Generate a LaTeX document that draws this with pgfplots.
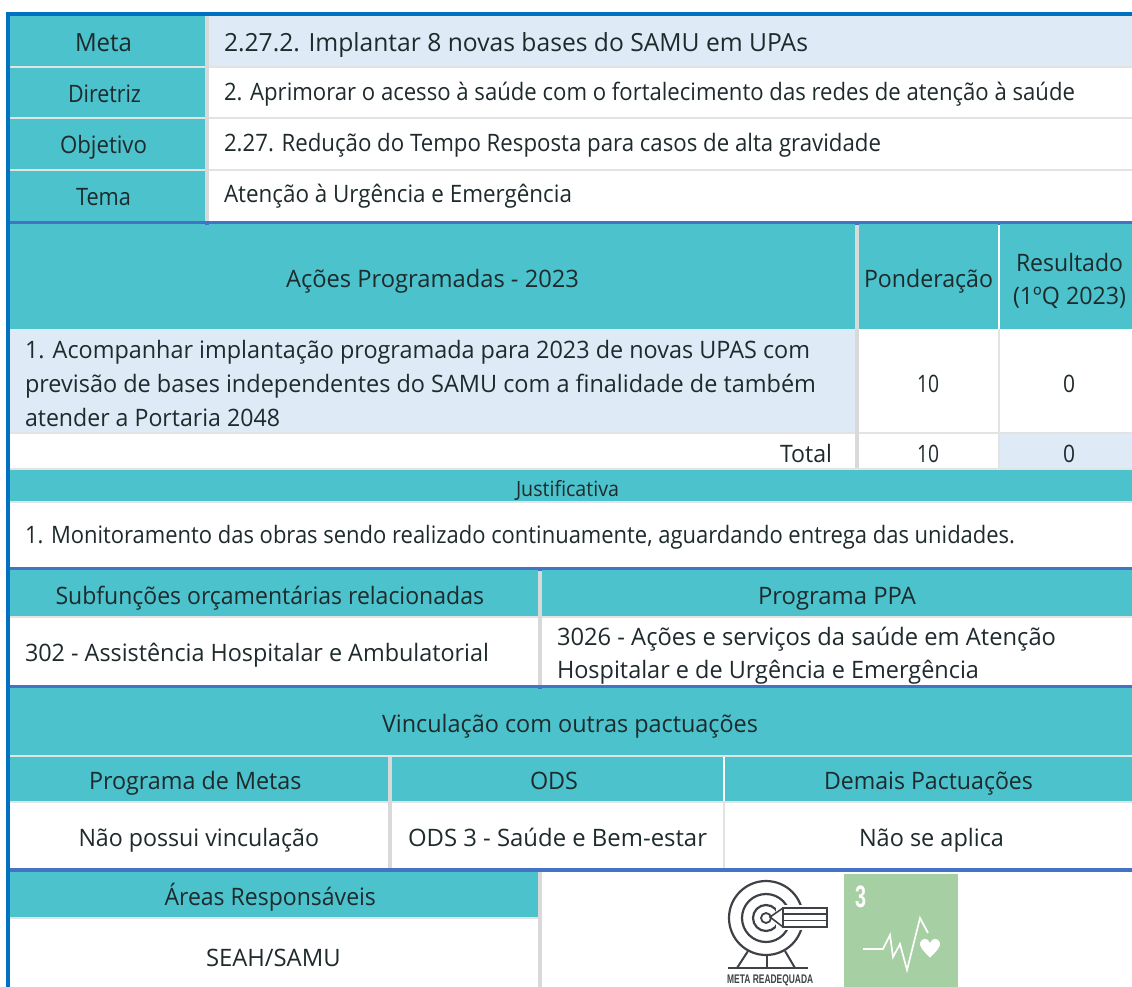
\documentclass[border=0pt]{standalone}
\usepackage{pgfplots}
\usepackage{graphicx}
\usepackage{fontspec}
\pgfplotsset{compat=1.18}
\setmainfont{Open Sans}
\newfontfamily\heros{Liberation Sans}
\definecolor{teal1}{HTML}{4BC2CC}
\definecolor{pale}{HTML}{DEEAF6}
\definecolor{colgray}{HTML}{D9D9D9}
\definecolor{rowgray}{HTML}{E3E3E3}
\definecolor{blue1}{HTML}{4472C4}
\definecolor{blue0}{HTML}{0070C0}
\definecolor{ink}{HTML}{1E2A2C}
\definecolor{green3}{HTML}{A6CFA3}
\definecolor{icon}{HTML}{3E4246}
% rectangle x0 y0 x1 y1 colour
\newcommand{\cell}[5]{\addplot[fill=#5,draw=none,no markers] coordinates {(#1,#2)(#3,#2)(#3,#4)(#1,#4)} --cycle;}
% text: left, right, baseline, font size, text
\newcommand{\T}[5]{\node[anchor=base west,inner sep=0pt,outer sep=0pt,text=ink] at (axis cs:#1,#3) {\fontsize{#4}{#4}\selectfont\resizebox{\dimexpr #2pt-#1pt\relax}{\height}{#5}};}
\begin{document}
\begin{tikzpicture}
\begin{axis}[
  scale only axis, width=1132pt, height=987pt,
  xmin=0, xmax=1132, ymin=0, ymax=987, y dir=reverse,
  hide axis, clip=true]
\cell{0}{0}{1132}{987}{white}
% top block
\cell{10}{16}{205}{221.5}{teal1}
\cell{209}{16}{1132}{66}{pale}
\cell{10}{66}{1132}{68}{rowgray}
\cell{10}{117}{1132}{119}{rowgray}
\cell{10}{169}{1132}{171}{rowgray}
\cell{205}{16}{209}{221.5}{colgray}
% actions
\cell{10}{224}{1132}{329}{teal1}
\cell{10}{329}{855}{432}{pale}
\cell{998}{224}{1000}{329}{white}
\cell{998}{329}{1000}{468}{rowgray}
\cell{10}{432}{1132}{434}{rowgray}
\cell{1000}{434}{1132}{468}{pale}
\cell{855}{224}{859}{468}{colgray}
\cell{10}{468}{1132}{470}{rowgray}
% justificativa
\cell{10}{470}{1132}{501}{teal1}
\cell{10}{501}{1132}{503}{rowgray}
% subfuncoes
\cell{10}{570}{1132}{616}{teal1}
\cell{10}{616}{1132}{618}{rowgray}
\cell{538}{570}{542}{685}{colgray}
% vinculacao
\cell{10}{688}{1132}{755}{teal1}
\cell{10}{755}{1132}{757}{rowgray}
\cell{10}{757}{1132}{801}{teal1}
\cell{10}{801}{1132}{803}{rowgray}
\cell{388}{757}{392}{868}{colgray}
\cell{723}{757}{725}{801}{white}
\cell{723}{801}{725}{868}{rowgray}
% areas
\cell{10}{872}{538}{917}{teal1}
\cell{10}{917}{538}{919}{rowgray}
\cell{538}{872}{542}{987}{colgray}
% blue rules
\cell{10}{221}{1132}{224}{blue1}
\cell{205}{224}{209}{225}{blue1}
\cell{855}{224}{859}{225}{blue1}
\cell{998}{224}{1000}{225}{blue1}
\cell{10}{567}{1132}{570}{blue1}
\cell{538}{570}{542}{571}{blue1}
\cell{10}{685}{1132}{688}{blue1}
\cell{538}{688}{542}{689}{blue1}
\cell{10}{868}{1132}{872}{blue1}
\cell{6}{12}{1132}{16}{blue0}
\cell{6}{12}{10}{987}{blue0}
% text
\T{75}{132}{52}{25}{Meta}
\T{224}{808}{52}{25}{2.27.2. Implantar 8 novas bases do SAMU em UPAs}
\T{68}{141}{103}{24}{Diretriz}
\T{224}{1075}{101}{24}{2. Aprimorar o acesso à saúde com o fortalecimento das redes de atenção à saúde}
\T{60}{147}{154}{24}{Objetivo}
\T{224}{881}{152}{24}{2.27. Redução do Tempo Resposta para casos de alta gravidade}
\T{76}{131}{205}{24}{Tema}
\T{224}{572}{203}{24}{Atenção à Urgência e Emergência}
\T{286}{579}{287}{24}{Ações Programadas - 2023}
\T{864}{993}{287}{24}{Ponderação}
\T{1016}{1123}{271}{24}{Resultado}
\T{1013}{1126}{304}{24}{(1ºQ 2023)}
\T{25}{810}{358}{24}{1. Acompanhar implantação programada para 2023 de novas UPAS com}
\T{25}{816}{392}{24}{previsão de bases independentes do SAMU com a finalidade de também}
\T{25}{280}{426}{24}{atender a Portaria 2048}
\T{917}{939}{392}{24}{10}
\T{1063}{1075}{392}{24}{0}
\T{780}{832}{462}{24}{Total}
\T{917}{939}{462}{24}{10}
\T{1063}{1075}{462}{24}{0}
\T{516}{619}{496}{21}{Justificativa}
\T{25}{1015}{543}{24}{1. Monitoramento das obras sendo realizado continuamente, aguardando entrega das unidades.}
\T{55.5}{484}{604}{24}{Subfunções orçamentárias relacionadas}
\T{758}{916}{604}{24}{Programa PPA}
\T{25}{489}{661}{24}{302 - Assistência Hospitalar e Ambulatorial}
\T{557}{1056}{645}{24}{3026 - Ações e serviços da saúde em Atenção}
\T{557}{979}{678}{24}{Hospitalar e de Urgência e Emergência}
\T{382}{758}{732}{24}{Vinculação com outras pactuações}
\T{89}{301.5}{789}{24}{Programa de Metas}
\T{530}{578}{789}{24}{ODS}
\T{824}{1033}{789}{24}{Demais Pactuações}
\T{78.5}{319}{846}{24}{Não possui vinculação}
\T{408}{707}{846}{24}{ODS 3 - Saúde e Bem-estar}
\T{859}{1004}{846}{24}{Não se aplica}
\T{164.5}{376}{905}{24}{Áreas Responsáveis}
\T{206}{340.6}{966}{24}{SEAH/SAMU}
% target icon
\draw[icon,line width=2.2pt] (axis cs:766,918) circle[radius=37pt];
\draw[icon,line width=2.2pt] (axis cs:766,918) circle[radius=24pt];
\draw[icon,line width=2.2pt] (axis cs:766,918) circle[radius=13pt];
\draw[icon,line width=1.8pt] (axis cs:766,918) circle[radius=5pt];
\fill[white] (axis cs:776,905) rectangle (axis cs:830,930);
\draw[icon,line width=2pt] (axis cs:827,908) rectangle (axis cs:783,927);
\draw[icon,line width=1.6pt] (axis cs:783,914) -- (axis cs:827,914);
\draw[icon,line width=1.6pt] (axis cs:783,920.5) -- (axis cs:827,920.5);
\draw[icon,line width=1.6pt] (axis cs:783,908) -- (axis cs:770,917) -- (axis cs:783,927);
\draw[icon,line width=2pt] (axis cs:728,968) -- (axis cs:808,968);
\draw[icon,line width=2pt] (axis cs:767,955) -- (axis cs:767,968);
\draw[icon,line width=2pt] (axis cs:748,951) -- (axis cs:737,968);
\draw[icon,line width=2pt] (axis cs:785,951) -- (axis cs:795,968);
\node[anchor=base west,inner sep=0pt,text=icon] at (axis cs:727,983) {\fontsize{12.5}{12.5}\selectfont\heros\bfseries\resizebox{86pt}{\height}{META READEQUADA}};
% SDG tile
\cell{844}{874}{958}{987}{green3}
\node[anchor=base west,inner sep=0pt,text=white] at (axis cs:855,907) {\fontsize{31}{31}\selectfont\heros\bfseries\resizebox{11pt}{\height}{3}};
\addplot[white,line width=1.7pt,no markers] coordinates {(863,949)(883,949)(890,935)(893,957)(900,944)(907,970)(920,918)(928,933)};
\fill[white] (axis cs:930,957.5) .. controls (axis cs:922,950) and (axis cs:919.5,946) .. (axis cs:920,943) .. controls (axis cs:921,938) and (axis cs:928,937) .. (axis cs:930,943) .. controls (axis cs:932,937) and (axis cs:939,938) .. (axis cs:940,943) .. controls (axis cs:940.5,946) and (axis cs:938,950) .. (axis cs:930,957.5) -- cycle;
\end{axis}
\end{tikzpicture}
\end{document}
